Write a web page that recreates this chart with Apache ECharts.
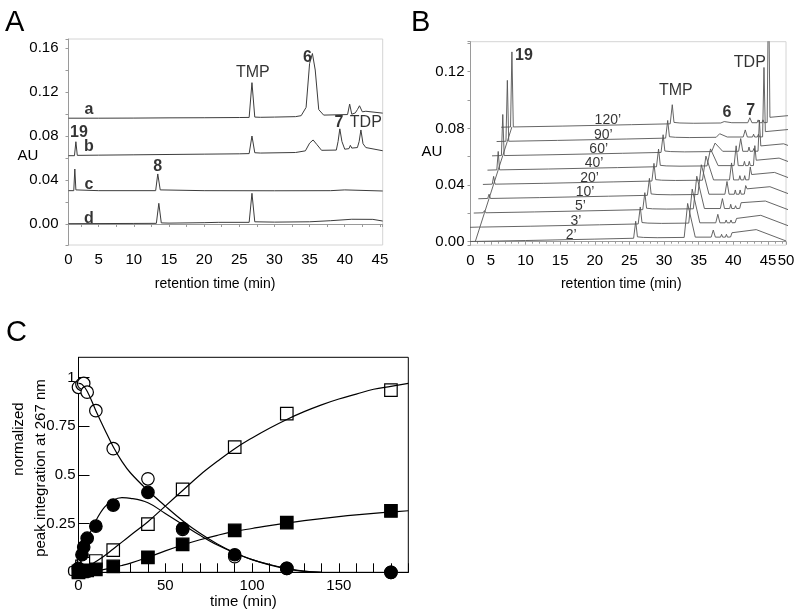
<!DOCTYPE html>
<html><head><meta charset="utf-8">
<script src="https://cdn.jsdelivr.net/npm/echarts@6/dist/echarts.min.js"></script>
<style>html,body{margin:0;padding:0;background:#fff}#c{width:800px;height:614px}</style>
</head><body><div id="c"></div>
<script>
// ---------- Panel A : chromatograms a-d ([time min, AU]) ----------
const aTraceA = [[0.7,0.0962],[5,0.0962],[10,0.0963],[15,0.0965],[20,0.0966],[25,0.0968],[26.4,0.0969],[26.8,0.1285],[27.2,0.0972],[28,0.097],[30,0.0972],[33,0.0976],[33.8,0.0985],[34.5,0.106],[35.0,0.146],[35.4,0.155],[35.8,0.140],[36.3,0.104],[37,0.099],[40.4,0.0995],[40.7,0.109],[41.0,0.0998],[41.5,0.101],[41.8,0.104],[42.1,0.1075],[42.5,0.102],[43,0.1025],[45.4,0.1008]];
const aTraceB = [[0.7,0.0621],[1.55,0.0621],[1.75,0.0748],[1.95,0.0624],[5,0.0626],[10,0.0629],[15,0.0632],[20,0.0635],[25,0.0638],[26.4,0.064],[26.8,0.080],[27.2,0.0648],[28,0.0645],[33,0.065],[34.4,0.0665],[35.0,0.0735],[35.5,0.0764],[36.0,0.0725],[36.7,0.067],[38.8,0.0672],[39.05,0.075],[39.3,0.0865],[39.6,0.075],[40,0.068],[40.6,0.0685],[40.8,0.0715],[41.0,0.069],[41.8,0.0695],[42.05,0.075],[42.3,0.0855],[42.6,0.073],[43,0.0695],[45.4,0.0666]];
const aTraceC = [[0.7,0.0303],[1.45,0.0303],[1.6,0.050],[1.75,0.031],[5,0.0303],[13.1,0.0303],[13.4,0.0455],[13.75,0.031],[20,0.0303],[30,0.0302],[38,0.0303],[40,0.031],[45.4,0.030]];
const aTraceD = [[0.7,0.0003],[10,0.0005],[13.2,0.0006],[13.55,0.0188],[13.9,0.001],[15,0.0008],[20,0.0012],[22,0.0015],[26.4,0.0015],[26.8,0.0279],[27.2,0.002],[30,0.0017],[35,0.002],[38,0.003],[41,0.0043],[44,0.0042],[45.4,0.0027]];
const aNotes = [['TMP',26.93,0.1375],['6',34.7,0.151],['7',39.16,0.0918],['TDP',43.0,0.0918],['19',2.18,0.0827],['8',13.4,0.0518],['a',3.6,0.1036],['b',3.6,0.070],['c',3.6,0.0355],['d',3.6,0.0045]];

// ---------- Panel B : waterfall of reaction time points ----------
const bTimeLabels = ["2’","3’","5’","10’","20’","40’","60’","90’","120’"];
const bShiftX = 0.66, bShiftY = 0.0101;   // per-trace waterfall offset (min, AU)
const bLocalT    = [1.2, 2.55, 2.75, 2.95, 10, 20, 25.6, 25.9, 26.15, 27, 29, 32.9, 33.4, 34.5, 36.8, 37.1, 37.4, 38.15, 38.3, 38.45, 38.85, 39.0, 39.15, 39.6, 39.8, 40.0, 43.3, 47.6];
const bLocalBase = [0, 0.0002, 0.0002, 0.0002, 0.0008, 0.0018, 0.0024, 0.0024, 0.0034, 0.003, 0.0028, 0.003, 0.003, 0.0032, 0.0032, 0.0032, 0.0032, 0.0032, 0.0032, 0.0032, 0.0032, 0.0032, 0.0032, 0.0033, 0.0033, 0.0070, 0.0085, 0.0005];
const bLocalPeak = ['', '', 'p19', '', '', '', '', 'pTMP', '', '', '', '', 'p6', '', '', 'p7', '', '', 's1', '', '', 's2', '', '', 'pTDP', '', '', ''];
const bHeights = {
  p19:  [0.0005, 0.001, 0.0015, 0.003, 0.0055, 0.013, 0.029, 0.043, 0.053],
  pTMP: [0.012, 0.012, 0.012, 0.012, 0.0125, 0.0125, 0.0125, 0.0125, 0.0135],
  p6:   [0.024, 0.024, 0.023, 0.021, 0.017, 0.012, 0.006, 0.0025, 0.001],
  p7:   [0.005, 0.006, 0.007, 0.009, 0.012, 0.014, 0.009, 0.005, 0.0035],
  s1:   [0.002, 0.002, 0.003, 0.003, 0.003, 0.003, 0.003, 0.002, 0.002],
  s2:   [0.002, 0.002, 0.002, 0.003, 0.003, 0.003, 0.002, 0.002, 0.002],
  pTDP: [0.003, 0.003, 0.004, 0.006, 0.009, 0.014, 0.022, 0.049, 0.1]
};
const bNotes = [['19',9.77,0.1311],['TMP',31.7,0.1064],['6',39.06,0.0908],['7',42.5,0.0923],['TDP',42.38,0.1261]];

// ---------- Panel C : kinetics ----------
const cTime = [0, 2, 3, 5, 10, 20, 40, 60, 90, 120, 180];
const cOpenCircle   = [0.95, 0.965, 0.97, 0.925, 0.83, 0.635, 0.48, 0.22, 0.08, 0.02, 0.0];
const cFilledCircle = [0.02, 0.09, 0.13, 0.175, 0.237, 0.345, 0.41, 0.225, 0.09, 0.02, 0.0];
const cOpenSquare   = [0.005, 0.03, 0.035, 0.045, 0.058, 0.114, 0.247, 0.426, 0.643, 0.815, 0.935];
const cFilledSquare = [0, 0.005, 0.007, 0.01, 0.015, 0.03, 0.077, 0.143, 0.215, 0.255, 0.315];
const cFitTDecay = [0, 2, 5, 10, 15, 20, 25, 30, 40, 50, 60, 70, 80, 90, 100, 110, 120, 130, 140];
const cFitOpenCircle   = [0.97, 0.965, 0.93, 0.83, 0.735, 0.645, 0.57, 0.51, 0.42, 0.34, 0.265, 0.2, 0.145, 0.1, 0.065, 0.04, 0.02, 0.006, 0];
const cFitFilledCircle = [0, 0.08, 0.165, 0.265, 0.335, 0.37, 0.383, 0.38, 0.357, 0.302, 0.246, 0.19, 0.14, 0.1, 0.065, 0.038, 0.018, 0.005, 0];
const cFitTGrow = [0, 2, 5, 10, 15, 20, 25, 30, 40, 50, 60, 70, 80, 90, 100, 110, 120, 130, 140, 150, 160, 170, 180, 190];
const cFitOpenSquare   = [0, 0.01, 0.025, 0.055, 0.085, 0.12, 0.155, 0.19, 0.26, 0.34, 0.42, 0.5, 0.57, 0.635, 0.69, 0.74, 0.785, 0.825, 0.86, 0.89, 0.915, 0.94, 0.955, 0.97];
const cFitFilledSquare = [0, 0.001, 0.003, 0.008, 0.015, 0.025, 0.035, 0.047, 0.077, 0.11, 0.14, 0.167, 0.19, 0.21, 0.225, 0.24, 0.253, 0.265, 0.276, 0.286, 0.295, 0.303, 0.31, 0.316];

// ---------- build ----------
const FF = '"Liberation Sans", Arial, Helvetica, sans-serif';
const boldNames = ['6','7','8','19','a','b','c','d'];
const near = (a, b) => Math.abs(a - b) < 1e-6;
const auFmt = v => { const k = Math.round(v / 0.04); return (near(v, k * 0.04) && k >= 0 && k <= 4) ? (k * 0.04).toFixed(2) : ''; };
const grayAxis = '#9a9a9a';

function noteSeries(notes, xi, yi) {
  return {
    type: 'scatter', xAxisIndex: xi, yAxisIndex: yi, symbolSize: 1, silent: true,
    itemStyle: { color: 'transparent' },
    label: { show: true, position: 'inside', color: '#000', fontFamily: FF, fontSize: 16, formatter: '{b}' },
    data: notes.map(n => ({ name: n[0], value: [n[1], n[2]],
      label: boldNames.includes(n[0]) ? { fontWeight: 'bold', fontSize: 16 } : {} }))
  };
}

const series = [];
[aTraceA, aTraceB, aTraceC, aTraceD].forEach(d => series.push({
  type: 'line', xAxisIndex: 0, yAxisIndex: 0, data: d, symbol: 'none', silent: true,
  lineStyle: { color: '#3c3c3c', width: 1 }
}));
series.push(noteSeries(aNotes, 0, 0));

bTimeLabels.forEach((lab, i) => {
  const data = bLocalT.map((t, k) => [t + i * bShiftX,
    bLocalBase[k] + i * bShiftY + (bLocalPeak[k] ? bHeights[bLocalPeak[k]][i] : 0)]);
  series.push({ type: 'line', xAxisIndex: 1, yAxisIndex: 1, data, symbol: 'none', silent: true,
    lineStyle: { color: '#555', width: 0.9 } });
});
series.push({ type: 'line', xAxisIndex: 1, yAxisIndex: 1, symbol: 'none', silent: true,
  lineStyle: { color: '#555', width: 0.9 },
  data: bTimeLabels.map((l, i) => [2.75 + i * bShiftX, 0.0002 + i * bShiftY]) });
series.push({
  type: 'scatter', xAxisIndex: 1, yAxisIndex: 1, symbolSize: 1, silent: true,
  itemStyle: { color: 'transparent' },
  label: { show: true, position: 'inside', color: '#000', fontFamily: FF, fontSize: 14, formatter: '{b}' },
  data: bTimeLabels.map((l, i) => ({ name: l, value: [16.6 + i * bShiftX, 0.0047 + i * bShiftY] }))
});
series.push(noteSeries(bNotes, 1, 1));

const fitLine = (t, v) => ({ type: 'line', xAxisIndex: 2, yAxisIndex: 2, symbol: 'none', silent: true,
  smooth: 0.4, lineStyle: { color: '#000', width: 1.2 }, data: t.map((x, i) => [x, v[i]]) });
series.push(fitLine(cFitTDecay, cFitOpenCircle));
series.push(fitLine(cFitTDecay, cFitFilledCircle));
series.push(fitLine(cFitTGrow, cFitOpenSquare));
series.push(fitLine(cFitTGrow, cFitFilledSquare));
const pts = (v, symbol, filled) => ({ type: 'scatter', xAxisIndex: 2, yAxisIndex: 2, symbol, symbolSize: 12.5, silent: true,
  itemStyle: { color: filled ? '#000' : '#fff', borderColor: '#000', borderWidth: 1.2, opacity: 1 },
  data: cTime.map((x, i) => [x, v[i]]) });
series.push(pts(cOpenSquare, 'rect', false));
series.push(pts(cFilledSquare, 'rect', true));
series.push(pts(cOpenCircle, 'circle', false));
series.push(pts(cFilledCircle, 'circle', true));

const lab = (o) => Object.assign({ color: '#000', fontFamily: FF, fontSize: 14 }, o);

const option = {
  animation: false,
  backgroundColor: '#fff',
  grid: [
    { left: 68.5, top: 39, width: 314.2, height: 206, show: true, borderColor: '#d4d4d4', borderWidth: 1 },
    { left: 470.5, top: 41.7, width: 315.5, height: 203.5, show: true, borderColor: '#d4d4d4', borderWidth: 1 },
    { left: 78.5, top: 357.3, width: 329.8, height: 215, show: true, borderColor: '#000', borderWidth: 1 }
  ],
  xAxis: [
    { gridIndex: 0, type: 'value', min: 0.7, max: 45.4, splitNumber: 9, minInterval: 5, maxInterval: 5,
      axisLine: { lineStyle: { color: grayAxis } }, splitLine: { show: false },
      axisTick: { show: true, length: 3, lineStyle: { color: grayAxis } },
      minorTick: { show: true, splitNumber: 2, length: 3, lineStyle: { color: grayAxis } },
      axisLabel: lab({ margin: 7, fontSize: 15, showMinLabel: true, showMaxLabel: true,
        formatter: v => near(v, 0.7) ? '0' : (near(v, 45.4) ? '' : String(Math.round(v))) }),
      name: 'retention time (min)', nameLocation: 'middle', nameGap: 32,
      nameTextStyle: lab({ padding: [0, 21, 0, 0] }) },
    { gridIndex: 1, type: 'value', min: 2.05, max: 47.6, splitNumber: 9, minInterval: 5, maxInterval: 5,
      axisLine: { lineStyle: { color: grayAxis } }, splitLine: { show: false },
      axisTick: { show: true, length: 3, lineStyle: { color: grayAxis } },
      minorTick: { show: true, splitNumber: 5, length: 2, lineStyle: { color: grayAxis } },
      axisLabel: lab({ margin: 8, fontSize: 15, showMinLabel: true, showMaxLabel: true,
        formatter: v => near(v, 2.05) ? '0' : (near(v, 47.6) ? '50' : String(Math.round(v))) }),
      name: 'retention time (min)', nameLocation: 'middle', nameGap: 32,
      nameTextStyle: lab({ padding: [0, 14, 0, 0] }) },
    { gridIndex: 2, type: 'value', min: 0, max: 190, interval: 50,
      axisLine: { lineStyle: { color: '#000' } }, splitLine: { show: false },
      axisTick: { show: true, inside: true, length: 9, lineStyle: { color: '#000' } },
      minorTick: { show: true, splitNumber: 5, length: 9, lineStyle: { color: '#000' } },
      axisLabel: lab({ margin: 6, fontSize: 15, showMaxLabel: false }),
      name: 'time (min)', nameLocation: 'middle', nameGap: 20, nameTextStyle: lab({ fontSize: 15 }) }
  ],
  yAxis: [
    { gridIndex: 0, type: 'value', min: -0.0191, max: 0.1682, splitNumber: 9, minInterval: 0.02, maxInterval: 0.02,
      axisLine: { show: true, lineStyle: { color: grayAxis } }, splitLine: { show: false },
      axisTick: { show: true, length: 3, lineStyle: { color: grayAxis } },
      axisLabel: lab({ margin: 10, fontSize: 15, formatter: auFmt }) },
    { gridIndex: 1, type: 'value', min: -0.0025, max: 0.1412, splitNumber: 7, minInterval: 0.02, maxInterval: 0.02,
      axisLine: { show: true, lineStyle: { color: grayAxis } }, splitLine: { show: false },
      axisTick: { show: true, length: 3, lineStyle: { color: grayAxis } },
      axisLabel: lab({ margin: 6, fontSize: 15, formatter: auFmt }) },
    { gridIndex: 2, type: 'value', min: 0, max: 1.104, interval: 0.25,
      axisLine: { show: true, lineStyle: { color: '#000' } }, splitLine: { show: false },
      axisTick: { show: true, inside: true, length: 11, lineStyle: { color: '#000' } },
      axisLabel: lab({ margin: 3, fontSize: 15, showMaxLabel: false }) }
  ],
  graphic: [
    { type: 'text', left: 5, top: 8, style: { text: 'A', font: '29px ' + FF, fill: '#000' } },
    { type: 'text', left: 411, top: 8, style: { text: 'B', font: '29px ' + FF, fill: '#000' } },
    { type: 'text', left: 6, top: 318, style: { text: 'C', font: '29px ' + FF, fill: '#000' } },
    { type: 'text', x: 28, y: 156, style: { text: 'AU', font: '15px ' + FF, fill: '#000', align: 'center', verticalAlign: 'middle' } },
    { type: 'text', x: 432, y: 152, style: { text: 'AU', font: '15px ' + FF, fill: '#000', align: 'center', verticalAlign: 'middle' } },
    { type: 'text', x: 19, y: 439, rotation: Math.PI / 2, style: { text: 'normalized', font: '15px ' + FF, fill: '#000', align: 'center', verticalAlign: 'middle' } },
    { type: 'text', x: 41, y: 468, rotation: Math.PI / 2, style: { text: 'peak integration at 267 nm', font: '15px ' + FF, fill: '#000', align: 'center', verticalAlign: 'middle' } }
  ],
  series
};
const chart = echarts.init(document.getElementById('c'), null, { renderer: 'canvas' });
chart.setOption(option);
</script>
</body></html>
